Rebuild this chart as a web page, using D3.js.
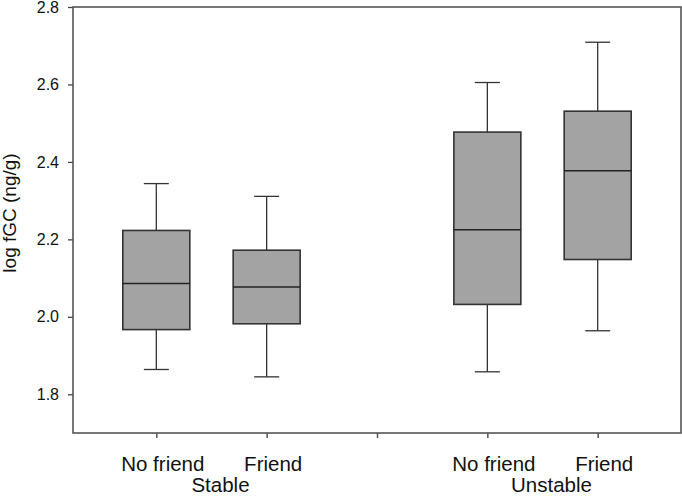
<!DOCTYPE html>
<html>
<head>
<meta charset="utf-8">
<script src="https://cdn.jsdelivr.net/npm/d3@7"></script>
<style>
  body { margin: 0; background: #fff; }
  text { font-family: "Liberation Sans", Arial, sans-serif; fill: #111; }
</style>
</head>
<body>
<svg id="chart" width="682" height="497"></svg>
<script>
// box plot data
const groups = ["Stable", "Unstable"];
const categories = ["No friend", "Friend", "No friend", "Friend"];
const whiskerLow = [1.864, 1.845, 1.858, 1.964];
const q1 = [1.967, 1.982, 2.032, 2.148];
const medians = [2.086, 2.077, 2.225, 2.377];
const q3 = [2.223, 2.172, 2.477, 2.531];
const whiskerHigh = [2.344, 2.311, 2.605, 2.709];
const yTicks = [1.8, 2.0, 2.2, 2.4, 2.6, 2.8];

// slots on the x axis: 1,2 = stable, 3 = gap, 4,5 = unstable
const slots = [1, 2, 4, 5];
const xTickSlots = [1, 2, 3, 4, 5];
const xTickText = ["No friend", "Friend", "", "No friend", "Friend"];

const margin = { top: 7, right: 1, bottom: 64, left: 73 };
const width = 682 - margin.left - margin.right;
const height = 497 - margin.top - margin.bottom;

const svg = d3.select("#chart");
const chart = svg.append("g")
    .attr("transform", `translate(${margin.left},${margin.top})`);

const x = d3.scaleLinear().domain([0.245, 5.755]).range([0, width]);
const y = d3.scaleLinear().domain([1.7, 2.8]).range([height, 0]);

const boxW = 67;
const capW = 25;
const lineCol = "#333";

// axes
const yAxis = d3.axisLeft(y).tickValues(yTicks).tickFormat(d3.format(".1f"))
    .tickSize(5).tickPadding(9);
const xAxis = d3.axisBottom(x).tickValues(xTickSlots)
    .tickFormat((d, i) => xTickText[i]).tickSize(5).tickPadding(18);

const gy = chart.append("g").call(yAxis);
gy.select(".domain").remove();
gy.selectAll("line").attr("stroke", "#444").attr("stroke-width", 1.3);
gy.selectAll("text").style("font-size", "16px").attr("fill", "#111");

const gx = chart.append("g").attr("transform", `translate(0,${height})`).call(xAxis);
gx.select(".domain").remove();
gx.selectAll("line").attr("stroke", "#555").attr("stroke-width", 1.5);
gx.selectAll("text").style("font-size", "20.5px").attr("fill", "#111").attr("dx", 6);

// frame
chart.append("rect")
    .attr("x", 0).attr("y", 0)
    .attr("width", width).attr("height", height)
    .attr("fill", "none").attr("stroke", "#555").attr("stroke-width", 1.6);

// group labels
chart.selectAll(".group-label")
    .data(groups)
    .enter().append("text")
    .attr("class", "group-label")
    .attr("x", (d, i) => x(i === 0 ? 1.5 : 4.5) + 9)
    .attr("y", height + 59)
    .attr("text-anchor", "middle")
    .style("font-size", "20.5px")
    .text(d => d);

// y label
chart.append("text")
    .attr("transform", `translate(${-margin.left + 16},${213 - margin.top}) rotate(-90)`)
    .attr("text-anchor", "middle")
    .style("font-size", "19px")
    .text("log fGC (ng/g)");

// boxes
const box = chart.selectAll(".box")
    .data(categories)
    .enter().append("g")
    .attr("class", "box");

box.append("line")
    .attr("x1", (d, i) => x(slots[i])).attr("x2", (d, i) => x(slots[i]))
    .attr("y1", (d, i) => y(whiskerLow[i])).attr("y2", (d, i) => y(whiskerHigh[i]))
    .attr("stroke", lineCol).attr("stroke-width", 1.3);

box.append("line")
    .attr("x1", (d, i) => x(slots[i]) - capW / 2).attr("x2", (d, i) => x(slots[i]) + capW / 2)
    .attr("y1", (d, i) => y(whiskerHigh[i])).attr("y2", (d, i) => y(whiskerHigh[i]))
    .attr("stroke", lineCol).attr("stroke-width", 1.3);

box.append("line")
    .attr("x1", (d, i) => x(slots[i]) - capW / 2).attr("x2", (d, i) => x(slots[i]) + capW / 2)
    .attr("y1", (d, i) => y(whiskerLow[i])).attr("y2", (d, i) => y(whiskerLow[i]))
    .attr("stroke", lineCol).attr("stroke-width", 1.3);

box.append("rect")
    .attr("x", (d, i) => x(slots[i]) - boxW / 2)
    .attr("y", (d, i) => y(q3[i]))
    .attr("width", boxW)
    .attr("height", (d, i) => y(q1[i]) - y(q3[i]))
    .attr("fill", "#a3a3a3")
    .attr("stroke", lineCol).attr("stroke-width", 1.6);

box.append("line")
    .attr("x1", (d, i) => x(slots[i]) - boxW / 2).attr("x2", (d, i) => x(slots[i]) + boxW / 2)
    .attr("y1", (d, i) => y(medians[i])).attr("y2", (d, i) => y(medians[i]))
    .attr("stroke", "#222").attr("stroke-width", 1.6);
</script>
</body>
</html>
